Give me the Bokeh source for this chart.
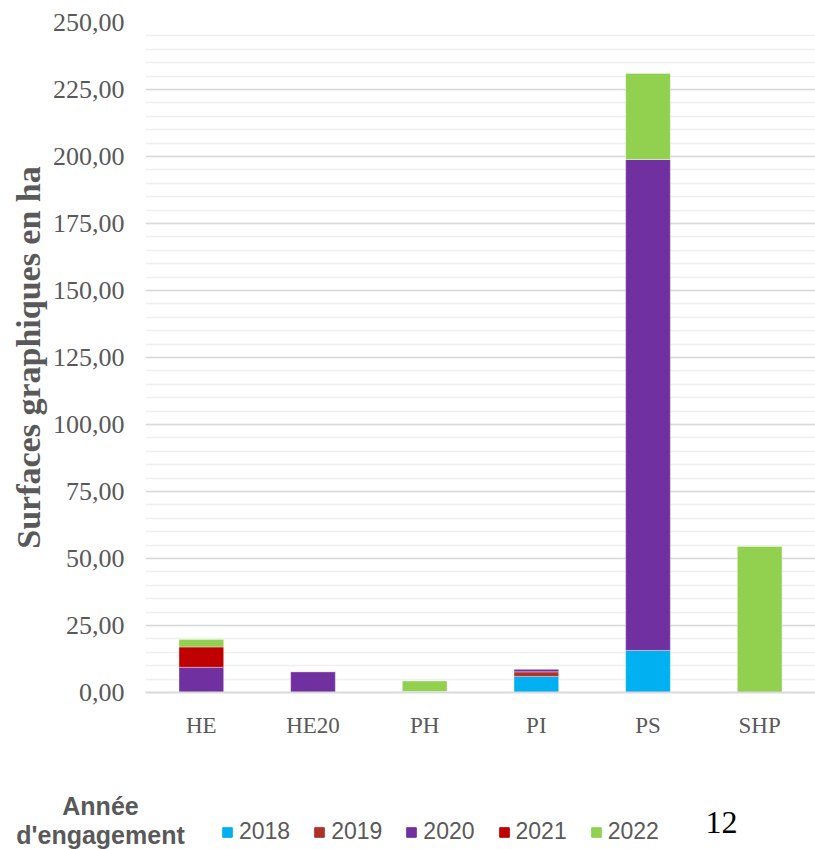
from bokeh.plotting import figure
from bokeh.models import (ColumnDataSource, FactorRange, SingleIntervalTicker,
                          CustomJSTickFormatter, Label, Range1d, Legend, LegendItem)
from bokeh.layouts import column, row
from bokeh.embed import file_html
from bokeh.resources import INLINE

categories = ["HE", "HE20", "PH", "PI", "PS", "SHP"]
years = ["2018", "2019", "2020", "2021", "2022"]
v2018 = [0.0, 0.0, 0.4, 6.0, 15.7, 0.0]
v2019 = [0.0, 0.0, 0.0, 1.7, 0.0, 0.0]
v2020 = [9.4, 7.8, 0.0, 1.1, 183.2, 0.0]
v2021 = [7.6, 0.0, 0.0, 0.0, 0.0, 0.0]
v2022 = [2.8, 0.0, 3.9, 0.0, 32.1, 54.5]
colors = ["#00B0F0", "#B0302A", "#7030A0", "#C00000", "#92D050"]
y_label = "Surfaces graphiques en ha"
legend_title = ["Année", "d'engagement"]
page_number = "12"

data = dict(cat=categories)
for yr, vals in zip(years, [v2018, v2019, v2020, v2021, v2022]):
    data[yr] = vals
source = ColumnDataSource(data)

# ---------------- main chart ----------------
p = figure(width=815, height=758, x_range=FactorRange(factors=categories),
           y_range=Range1d(0, 250), output_backend="svg", toolbar_location=None,
           min_border_left=145, min_border_right=0, min_border_top=22,
           min_border_bottom=66)
p.outline_line_color = None

p.vbar_stack(years, x="cat", width=0.4, color=colors, source=source,
             line_color="white", line_alpha=0.35, line_width=1)

p.yaxis.ticker = SingleIntervalTicker(interval=25, num_minor_ticks=5)
p.yaxis.formatter = CustomJSTickFormatter(code="return tick.toFixed(2).replace('.', ',');")
p.yaxis.axis_line_color = None
p.yaxis.major_tick_line_color = None
p.yaxis.minor_tick_line_color = None
p.yaxis.major_tick_out = 0
p.yaxis.minor_tick_out = 0
p.yaxis.major_label_text_font = "Liberation Serif"
p.yaxis.major_label_text_font_size = "26px"
p.yaxis.major_label_text_color = "#595959"
p.yaxis.major_label_standoff = 21
p.yaxis.axis_label = y_label
p.yaxis.axis_label_text_font = "Liberation Serif"
p.yaxis.axis_label_text_font_style = "bold"
p.yaxis.axis_label_text_font_size = "34px"
p.yaxis.axis_label_text_color = "#595959"
p.yaxis.axis_label_standoff = 3

p.xaxis.axis_line_color = "#d9d9d9"
p.xaxis.axis_line_width = 2
p.xaxis.major_tick_line_color = None
p.xaxis.minor_tick_line_color = None
p.xaxis.major_tick_out = 0
p.xaxis.major_label_text_font = "Liberation Serif"
p.xaxis.major_label_text_font_size = "23px"
p.xaxis.major_label_text_color = "#595959"
p.xaxis.major_label_standoff = 20

p.xgrid.grid_line_color = None
p.ygrid.grid_line_color = "#d9d9d9"
p.ygrid.grid_line_width = 1.5
p.ygrid.minor_grid_line_color = "#f0f0f0"
p.ygrid.minor_grid_line_width = 1.5

# ---------------- legend strip ----------------
p2 = figure(width=815, height=91, x_range=FactorRange(factors=categories),
            y_range=Range1d(1000, 1001), output_backend="svg", toolbar_location=None,
            x_axis_type=None, y_axis_type=None, min_border=0)
p2.outline_line_color = None
p2.xgrid.visible = False
p2.ygrid.visible = False
rs = p2.vbar_stack(years, x="cat", width=0.4, color=colors, source=source)

lg = Legend(items=[LegendItem(label=yr, renderers=[r]) for yr, r in zip(years, rs)],
            orientation="horizontal", location=(221, 4), margin=0, padding=0,
            border_line_color=None, background_fill_alpha=0,
            glyph_width=12, glyph_height=12, label_standoff=6, spacing=23,
            label_text_font="Liberation Sans",
            label_text_font_size="23px", label_text_color="#595959")
p2.add_layout(lg)

for txt, yy in zip(legend_title, [44, 15]):
    p2.add_layout(Label(x=100, y=yy, x_units="screen", y_units="screen", text=txt,
                        text_align="center", text_baseline="middle",
                        text_font="Liberation Sans",
                        text_font_style="bold", text_font_size="25px",
                        text_color="#595959"))

p2.add_layout(Label(x=721, y=27, x_units="screen", y_units="screen", text=page_number,
                    text_align="center", text_baseline="middle",
                    text_font="Liberation Serif", text_font_size="32px",
                    text_color="#000000"))

layout = column(p, row(p2), spacing=0)
open("out.html", "w").write(file_html(layout, INLINE))
